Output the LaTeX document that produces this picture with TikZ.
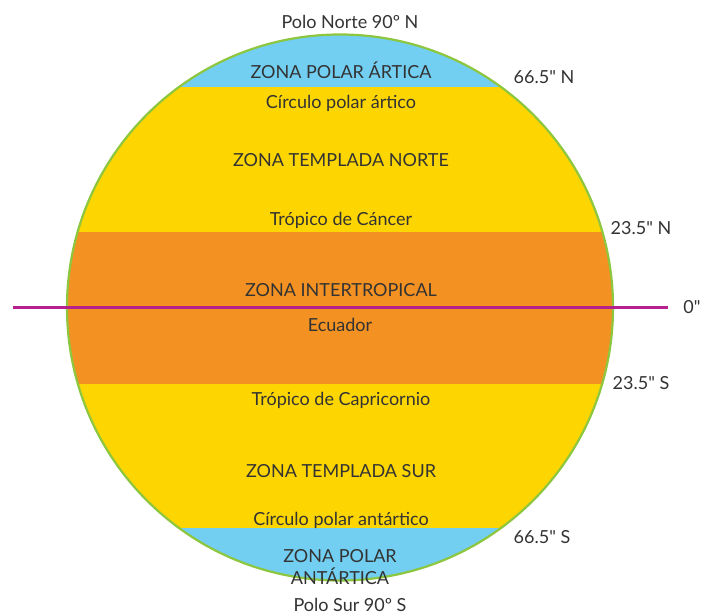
\documentclass[tikz,border=0pt]{standalone}
\usepackage{fontspec}
\setmainfont{Lato}[Ligatures=TeXOff]
\definecolor{polar}{HTML}{72CFF2}
\definecolor{templada}{HTML}{FDD500}
\definecolor{tropical}{HTML}{F39222}
\definecolor{borde}{HTML}{8DC63F}
\definecolor{ecuador}{HTML}{B5218F}
\definecolor{texto}{HTML}{333333}
\tikzset{
  etiqueta/.style={text=texto, font=\fontsize{18}{21}\selectfont, inner sep=0pt},
}
\begin{document}
\begin{tikzpicture}[x=1pt, y=-1pt]
    \useasboundingbox (0,0) rectangle (704,614);
    \coordinate (centro) at (340,307.5);

    % Zonas (recortadas por el globo)
    \begin{scope}
        \clip (centro) circle (273pt);
        \foreach \ya/\yb/\col in {30/87/polar, 87/232/templada, 232/384/tropical, 384/528/templada, 528/590/polar} {
            \fill[\col] (60,\ya) rectangle (620,\yb);
        }
    \end{scope}
    \draw[borde, line width=2.2pt] (centro) circle (273pt);

    % Ecuador
    \coordinate (izq) at (13,307.5);
    \coordinate (der) at (668,307.5);
    \draw[ecuador, line width=2.6pt] (izq) -- (der);

    % Nombres de las zonas
    \node[etiqueta] (polonorte) at (350,22) {Polo Norte 90º N};
    \node[etiqueta] (polarn) at (341,70) {ZONA POLAR ÁRTICA};
    \node[etiqueta] (circn) at (341,103) {Círculo polar ártico};
    \node[etiqueta] (templn) at (341,160) {ZONA TEMPLADA NORTE};
    \node[etiqueta] (cancer) at (341,220) {Trópico de Cáncer};
    \node[etiqueta] (inter) at (341,290) {ZONA INTERTROPICAL};
    \node[etiqueta] (ecua) at (340,325) {Ecuador};
    \node[etiqueta] (capri) at (341,400) {Trópico de Capricornio};
    \node[etiqueta] (templs) at (341,471) {ZONA TEMPLADA SUR};
    \node[etiqueta] (circs) at (341,520) {Círculo polar antártico};
    \node[etiqueta, align=center] (polars) at (340,567) {ZONA POLAR\\[1pt]ANTÁRTICA};
    \node[etiqueta] (polosur) at (350,605) {Polo Sur 90º S};

    % Latitudes
    \node[etiqueta] (lat66n) at (544,77) {66.5" N};
    \node[etiqueta] (lat23n) at (641,228) {23.5" N};
    \node[etiqueta] (lat0) at (692,307) {0"};
    \node[etiqueta] (lat23s) at (641,383) {23.5" S};
    \node[etiqueta] (lat66s) at (542,537) {66.5" S};
\end{tikzpicture}
\end{document}
